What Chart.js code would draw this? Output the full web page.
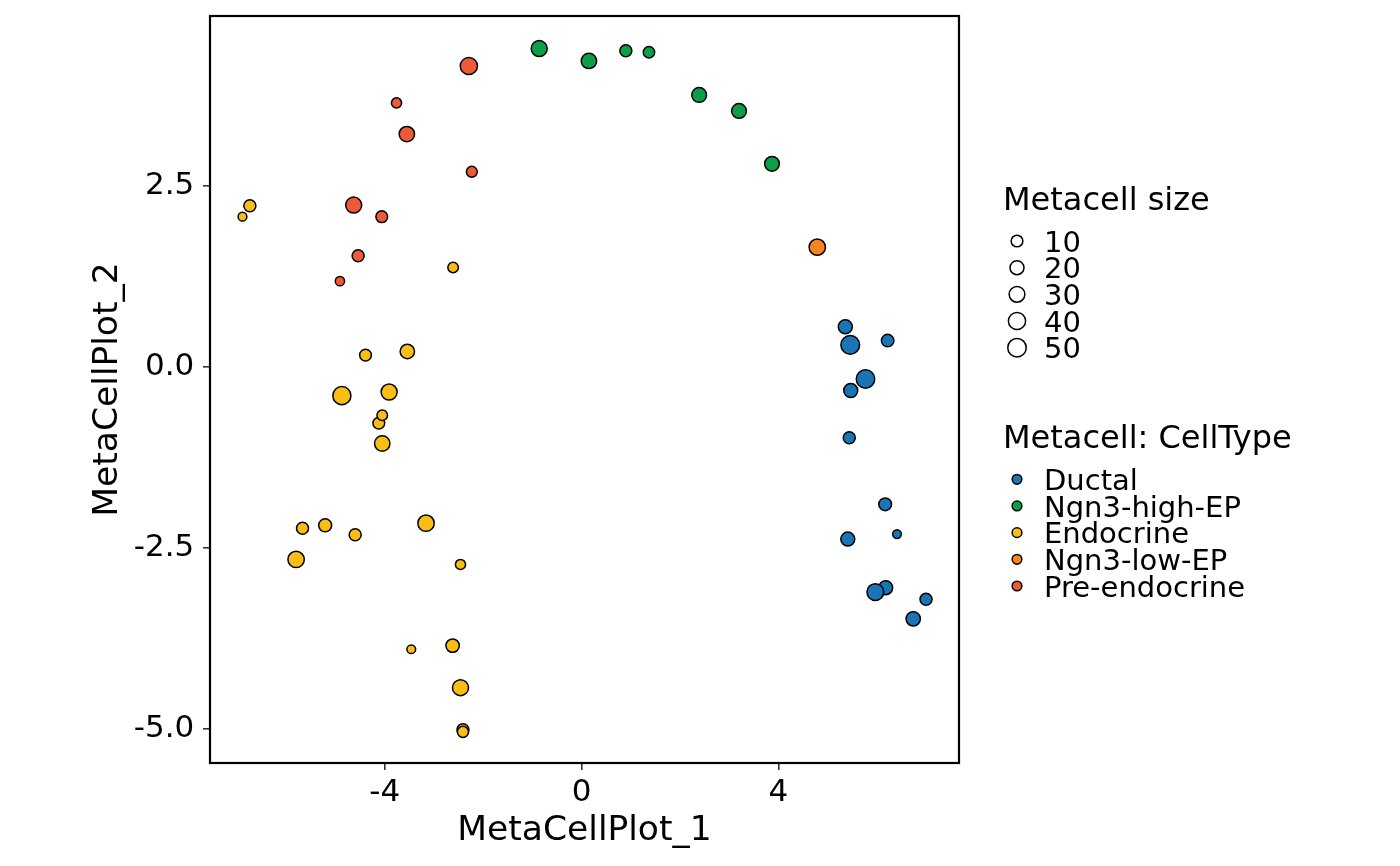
<!DOCTYPE html>
<html>
<head>
<meta charset="utf-8">
<title>MetaCellPlot</title>
<script src="https://cdn.jsdelivr.net/npm/chart.js@4.4.1/dist/chart.umd.min.js"></script>
<style>
  html, body { margin: 0; padding: 0; background: #fff; }
  #wrap { position: relative; width: 1400px; height: 866px; }
</style>
</head>
<body>
<div id="wrap"><canvas id="metacellChart"></canvas></div>
<script>
const cellTypes = ["Ductal", "Ngn3-high-EP", "Endocrine", "Ngn3-low-EP", "Pre-endocrine"];
const typeColors = ["#1A75B5", "#0C9F48", "#F8BE16", "#F7841F", "#EE5A38"];

// metacell coordinates (MetaCellPlot_1, MetaCellPlot_2) and sizes, per cell type
const ductalX = [5.36, 5.46, 6.22, 5.77, 5.47, 5.44, 6.17, 6.41, 5.41, 6.18, 5.97, 7.00, 6.74];
const ductalY = [0.55, 0.30, 0.36, -0.17, -0.33, -0.98, -1.90, -2.31, -2.38, -3.05, -3.11, -3.21, -3.48];
const ductalSize = [20, 52, 13, 50, 20, 11, 14, 2, 20, 20, 37, 11, 22];

const highEpX = [-0.86, 0.15, 0.90, 1.37, 2.39, 3.20, 3.87];
const highEpY = [4.39, 4.22, 4.36, 4.34, 3.75, 3.53, 2.80];
const highEpSize = [32, 28, 11, 9, 24, 24, 24];

const endocrineX = [-6.74, -6.89, -2.61, -4.39, -3.54, -4.87, -3.91, -4.12, -4.05, -4.05, -5.67,
  -5.21, -4.60, -3.16, -5.80, -2.46, -3.46, -2.62, -2.46, -2.41, -2.41];
const endocrineY = [2.22, 2.07, 1.37, 0.16, 0.21, -0.40, -0.35, -0.78, -0.67, -1.06, -2.23,
  -2.19, -2.32, -2.16, -2.66, -2.73, -3.90, -3.85, -4.43, -5.01, -5.04];
const endocrineSize = [11, 2, 6, 10, 22, 47, 32, 10, 6, 28, 11, 15, 11, 34, 34, 5, 2, 17, 32, 11, 8];

const lowEpX = [4.79];
const lowEpY = [1.65];
const lowEpSize = [34];

const preEndoX = [-2.29, -3.76, -3.55, -2.23, -4.63, -4.06, -4.54, -4.91];
const preEndoY = [4.15, 3.64, 3.21, 2.69, 2.23, 2.07, 1.53, 1.18];
const preEndoSize = [40, 5, 28, 7, 32, 10, 11, 3];

const sizeBreaks = [10, 20, 30, 40, 50];
const xTicks = [-4, 0, 4];
const yTicks = [-5, -2.5, 0, 2.5];

const FONT = "DejaVu Sans";
const BORDER_W = 1.5;
// metacell size -> point radius (area-like scaling)
const sizeToRadius = (s) => (7.8 + 1.72 * Math.sqrt(s)) / 2 - BORDER_W / 2;

const seriesX = [ductalX, highEpX, endocrineX, lowEpX, preEndoX];
const seriesY = [ductalY, highEpY, endocrineY, lowEpY, preEndoY];
const seriesSize = [ductalSize, highEpSize, endocrineSize, lowEpSize, preEndoSize];

const datasets = cellTypes.map((name, i) => ({
  label: name,
  data: seriesX[i].map((x, j) => ({ x: x, y: seriesY[i][j] })),
  backgroundColor: typeColors[i],
  borderColor: "#000",
  borderWidth: BORDER_W,
  pointRadius: seriesSize[i].map(sizeToRadius),
  pointHoverRadius: seriesSize[i].map(sizeToRadius),
  order: cellTypes.length - i,
}));

// panel border + the two legends on the right
const panelAndLegend = {
  id: "panelAndLegend",
  afterDatasetsDraw(chart) {
    const { ctx, chartArea: a } = chart;
    ctx.save();
    ctx.strokeStyle = "#000";
    ctx.lineWidth = 2.2;
    ctx.strokeRect(a.left, a.top, a.right - a.left, a.bottom - a.top);
    ctx.restore();
  },
  afterDraw(chart) {
    const ctx = chart.ctx;
    const titleSize = 32, labelSize = 29;
    const markX = 1017, textX = 1044, step = 26.67;
    ctx.save();
    ctx.fillStyle = "#000";
    ctx.textAlign = "left";
    ctx.textBaseline = "alphabetic";

    ctx.font = titleSize + "px '" + FONT + "'";
    ctx.fillText("Metacell size", 1003, 198.3 + 0.3645 * titleSize);
    sizeBreaks.forEach((s, i) => {
      const cy = 241 + i * step;
      ctx.beginPath();
      ctx.arc(markX, cy, sizeToRadius(s), 0, Math.PI * 2);
      ctx.fillStyle = "#fff";
      ctx.fill();
      ctx.lineWidth = BORDER_W;
      ctx.strokeStyle = "#000";
      ctx.stroke();
      ctx.fillStyle = "#000";
      ctx.font = labelSize + "px '" + FONT + "'";
      ctx.fillText(String(s), textX, cy + 0.3645 * labelSize);
    });

    ctx.font = titleSize + "px '" + FONT + "'";
    ctx.fillText("Metacell: CellType", 1003, 436.7 + 0.3645 * titleSize);
    cellTypes.forEach((name, i) => {
      const cy = 479.3 + i * step;
      ctx.beginPath();
      ctx.arc(markX, cy, 5.6 - BORDER_W / 2, 0, Math.PI * 2);
      ctx.fillStyle = typeColors[i];
      ctx.fill();
      ctx.lineWidth = BORDER_W;
      ctx.strokeStyle = "#000";
      ctx.stroke();
      ctx.fillStyle = "#000";
      ctx.font = labelSize + "px '" + FONT + "'";
      ctx.fillText(name, textX, cy + 0.3645 * labelSize);
    });
    ctx.restore();
  },
};

Chart.defaults.font.family = FONT;
Chart.defaults.color = "#000";

new Chart(document.getElementById("metacellChart"), {
  type: "scatter",
  data: { datasets: datasets },
  options: {
    responsive: true,
    maintainAspectRatio: false,
    animation: false,
    layout: { padding: { left: 0, top: 16, right: 441, bottom: 0 } },
    plugins: { legend: { display: false }, tooltip: { enabled: false } },
    scales: {
      x: {
        type: "linear",
        min: -7.55,
        max: 7.67,
        afterBuildTicks: (scale) => { scale.ticks = xTicks.map((v) => ({ value: v })); },
        afterFit: (scale) => {
          scale.height = 103;
          scale.paddingLeft = 0;
          scale.paddingRight = 0;
        },
        ticks: { font: { size: 31 }, color: "#000", padding: 4.5, maxRotation: 0 },
        grid: { drawOnChartArea: false, drawTicks: true, tickLength: 7, color: "#333", lineWidth: 1.6 },
        border: { display: false },
        title: { display: true, text: "MetaCellPlot_1", font: { size: 34.5 }, color: "#000", padding: { top: 0, bottom: 14 } },
      },
      y: {
        type: "linear",
        min: -5.47,
        max: 4.84,
        afterBuildTicks: (scale) => { scale.ticks = yTicks.map((v) => ({ value: v })); },
        afterFit: (scale) => {
          scale.width = 210;
          scale.paddingTop = 0;
          scale.paddingBottom = 0;
        },
        ticks: { font: { size: 31 }, color: "#000", padding: 8.7, callback: (v) => v.toFixed(1) },
        grid: { drawOnChartArea: false, drawTicks: true, tickLength: 7, color: "#333", lineWidth: 1.6 },
        border: { display: false },
        title: { display: true, text: "MetaCellPlot_2", font: { size: 34.5 }, color: "#000", padding: { top: 87, bottom: 0 } },
      },
    },
  },
  plugins: [panelAndLegend],
});
</script>
</body>
</html>
